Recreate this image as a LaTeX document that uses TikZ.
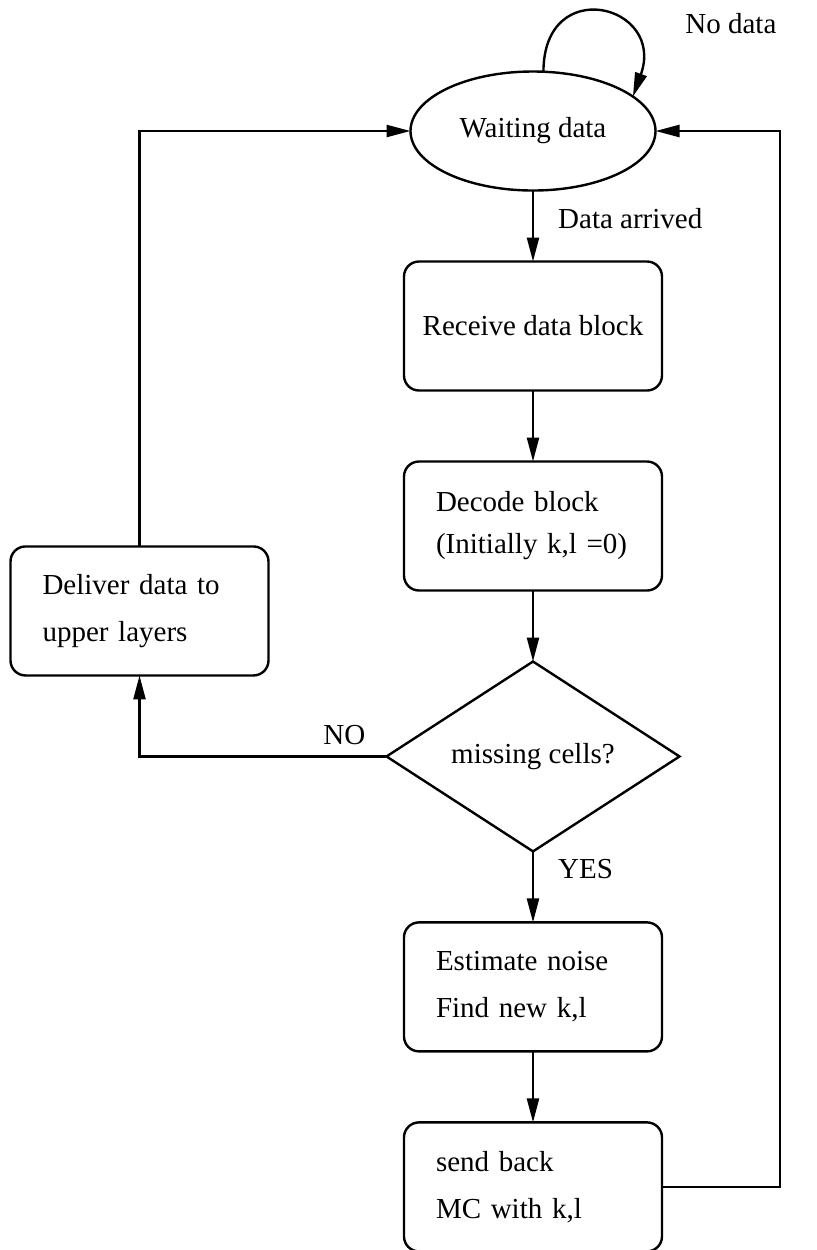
\documentclass[tikz,border=0pt]{standalone}
\usepackage{fontspec}
\setmainfont{Liberation Serif}
\usepackage{tikz}
\usetikzlibrary{arrows.meta,positioning,shapes.geometric}

\begin{document}
\begin{tikzpicture}[x=0.5pt,y=-0.5pt,
      node distance=35.5pt,
      state_node/.style={
         ellipse,
         draw=black,
         line width=1.2pt,
         inner sep=0pt,
         outer sep=0pt,
         minimum width=122.5pt,
         minimum height=59.5pt,
         font=\fontsize{14.5pt}{23.5pt}\selectfont},
      step_box/.style={
         rectangle,
         rounded corners=7.5pt,
         draw=black,
         line width=1.2pt,
         inner sep=0pt,
         outer sep=0pt,
         minimum width=129pt,
         minimum height=64.5pt,
         font=\fontsize{14.5pt}{23.5pt}\selectfont},
      note_box/.style={
         step_box,
         text width=97pt,
         align=left},
      test_node/.style={
         diamond,
         draw=black,
         line width=1.2pt,
         inner sep=0pt,
         outer sep=0pt,
         minimum width=146.5pt,
         minimum height=93pt,
         font=\fontsize{14.5pt}{23.5pt}\selectfont},
      edge_txt/.style={
         inner sep=0pt,
         font=\fontsize{14.5pt}{23.5pt}\selectfont},
      arrow_flow/.style={
        -{Triangle[length=12pt,width=6pt]},
        line width=1.2pt,
        }
]
      \useasboundingbox (0,0) rectangle (817,1250);

      %main column
      \node[state_node] (wait) at (533,131) {Waiting data};
      \node[step_box,below=of wait] (recv) {Receive data block};
      \node[note_box,below=of recv] (dec) {Decode block\\[-2.5pt](Initially k,l =0)};
      \node[test_node,below=of dec] (chk) {missing cells?};
      \node[note_box,below=of chk] (est) {Estimate noise\\Find new k,l};
      \node[note_box,below=of est] (snd) {send back\\MC with k,l};

      %side branch
      \node[note_box,above left=40.5pt and 59pt of chk.west] (dlv) {Deliver data to\\upper layers};
      \coordinate[right=59pt of snd.east] (back);

      \node[edge_txt,anchor=south west] (nodata) at (685,34) {No data};

    \foreach \i/\j/\txt/\p in {% start node/end node/text/position
      wait/recv/Data arrived/0.4,
      recv/dec//0.5,
      dec/chk//0.5,
      chk/est/YES/0.25,
      est/snd//0.5}
      \draw [arrow_flow] (\i) -- node[edge_txt,right=12pt,pos=\p] {\txt} (\j);

      \draw [arrow_flow] (chk) -| node[edge_txt,above left=5pt and 10pt,pos=0] {NO} (dlv);
      \draw [arrow_flow] (dlv) |- (wait);
      \draw [arrow_flow] (snd) -- (back) |- (wait);
      %self loop
      \draw [arrow_flow] (wait.80) .. controls +(0,-98) and +(33,-92) .. (wait.19);

\end{tikzpicture}
\end{document}
